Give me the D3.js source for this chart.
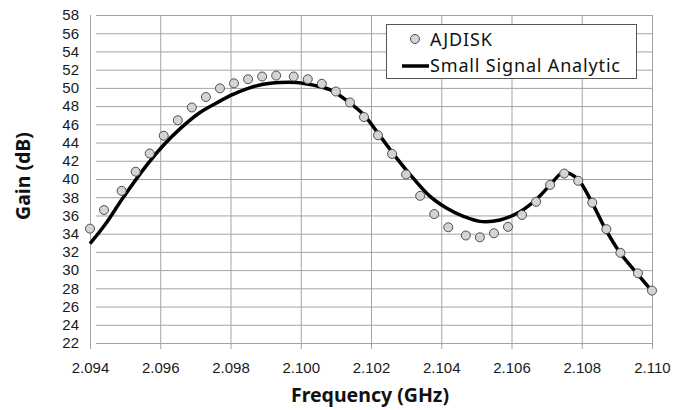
<!DOCTYPE html>
<html>
<head>
<meta charset="utf-8">
<script src="https://cdn.jsdelivr.net/npm/d3@7"></script>
<style>
  body { margin: 0; background: #fff; }
  svg { display: block; font-family: "Noto Sans", "Liberation Sans", sans-serif; }
</style>
</head>
<body>
<svg id="chart"></svg>
<script>
const width = 673;
const height = 410;
const margin = {top: 15, right: 21, bottom: 67, left: 90};

// AJDISK simulation points (GHz, dB)
const ajdiskFreq = [2.0940, 2.0944, 2.0949, 2.0953, 2.0957, 2.0961, 2.0965, 2.0969, 2.0973, 2.0977,
                    2.0981, 2.0985, 2.0989, 2.0993, 2.0998, 2.1002, 2.1006, 2.1010, 2.1014, 2.1018,
                    2.1022, 2.1026, 2.1030, 2.1034, 2.1038, 2.1042, 2.1047, 2.1051, 2.1055, 2.1059,
                    2.1063, 2.1067, 2.1071, 2.1075, 2.1079, 2.1083, 2.1087, 2.1091, 2.1096, 2.1100];
const ajdiskGain = [34.55, 36.6, 38.7, 40.8, 42.8, 44.75, 46.45, 47.85, 49.0, 49.95,
                    50.5, 50.95, 51.25, 51.35, 51.25, 50.95, 50.45, 49.6, 48.4, 46.8,
                    44.8, 42.75, 40.5, 38.15, 36.15, 34.7, 33.8, 33.6, 34.05, 34.75,
                    36.05, 37.5, 39.35, 40.6, 39.8, 37.4, 34.5, 31.9, 29.65, 27.75];

// Small signal analytic curve
const analyticFreq = [2.0940, 2.09443, 2.09495, 2.09561, 2.09609, 2.09656, 2.09713, 2.0977, 2.09799, 2.09846,
                      2.09893, 2.09941, 2.09988, 2.10036, 2.10083, 2.10131, 2.10178, 2.10226, 2.10273, 2.1032,
                      2.10368, 2.10416, 2.10463, 2.1051, 2.10567, 2.10624, 2.10672, 2.10709, 2.10747, 2.10786,
                      2.10828, 2.10866, 2.10909, 2.10956, 2.1100];
const analyticGain = [32.9, 35.0, 38.0, 41.5, 43.7, 45.5, 47.3, 48.55, 49.15, 49.9,
                      50.4, 50.6, 50.6, 50.3, 49.8, 48.6, 47.1, 44.7, 42.3, 40.1,
                      38.1, 36.8, 35.9, 35.35, 35.5, 36.4, 37.8, 39.3, 40.7, 40.1,
                      37.5, 34.6, 31.9, 29.7, 27.7];

const xTicks = [2.094, 2.096, 2.098, 2.100, 2.102, 2.104, 2.106, 2.108, 2.110];
const yTicks = [22, 24, 26, 28, 30, 32, 34, 36, 38, 40, 42, 44, 46, 48, 50, 52, 54, 56, 58];

const points = ajdiskFreq.map((f, i) => ({f, g: ajdiskGain[i]}));
const curve = analyticFreq.map((f, i) => ({f, g: analyticGain[i]}));

const svg = d3.select("#chart")
    .attr("width", width)
    .attr("height", height);

const x = d3.scaleLinear()
    .domain([2.094, 2.110])
    .range([margin.left, width - margin.right]);

const y = d3.scaleLinear()
    .domain([22, 58])
    .range([height - margin.bottom, margin.top]);

const gridColor = "#a3a3a3";

// horizontal grid + left ticks
svg.append("g")
    .attr("transform", `translate(${margin.left},0)`)
    .call(d3.axisLeft(y).tickValues(yTicks).tickSize(-(width - margin.left - margin.right)).tickSizeOuter(0).tickPadding(11))
    .call(g => g.select(".domain").remove())
    .call(g => g.selectAll("line").attr("stroke", gridColor).attr("x1", 6))
    .call(g => g.selectAll("text").attr("fill", "#1a1a1a").style("font-size", "15px"));

// vertical grid + bottom ticks
svg.append("g")
    .attr("transform", `translate(0,${height - margin.bottom})`)
    .call(d3.axisBottom(x).tickValues(xTicks).tickFormat(d3.format(".3f")).tickSize(-(height - margin.top - margin.bottom)).tickSizeOuter(0).tickPadding(19))
    .call(g => g.select(".domain").remove())
    .call(g => g.selectAll("line").attr("stroke", gridColor).attr("y1", 6))
    .call(g => g.selectAll("text").attr("fill", "#1a1a1a").style("font-size", "15px"));

// analytic curve
const line = d3.line()
    .x(d => x(d.f))
    .y(d => y(d.g))
    .curve(d3.curveCatmullRom.alpha(0.5));

svg.append("path")
    .datum(curve)
    .attr("fill", "none")
    .attr("stroke", "#000")
    .attr("stroke-width", 3.5)
    .attr("stroke-linejoin", "round")
    .attr("d", line);

// AJDISK markers
svg.append("g")
    .selectAll("circle")
    .data(points)
    .join("circle")
    .attr("cx", d => x(d.f))
    .attr("cy", d => y(d.g))
    .attr("r", 4.5)
    .attr("fill", "#d4d4d4")
    .attr("stroke", "#4d4d4d")
    .attr("stroke-width", 1);

// axis titles
svg.append("text")
    .attr("x", 370)
    .attr("y", 402)
    .attr("text-anchor", "middle")
    .style("font-size", "19.5px")
    .style("font-weight", "bold")
    .attr("fill", "#111")
    .text("Frequency (GHz)");

svg.append("text")
    .attr("transform", `translate(30,176) rotate(-90)`)
    .attr("text-anchor", "middle")
    .style("font-size", "19.5px")
    .style("font-weight", "bold")
    .attr("fill", "#111")
    .text("Gain (dB)");

// legend
const legend = svg.append("g");

legend.append("rect")
    .attr("x", 386.5)
    .attr("y", 24.5)
    .attr("width", 250)
    .attr("height", 54)
    .attr("fill", "#fff")
    .attr("stroke", "#555")
    .attr("stroke-width", 1);

legend.append("circle")
    .attr("cx", 415)
    .attr("cy", 39)
    .attr("r", 4.5)
    .attr("fill", "#d4d4d4")
    .attr("stroke", "#4d4d4d");

legend.append("line")
    .attr("x1", 402)
    .attr("x2", 429)
    .attr("y1", 66)
    .attr("y2", 66)
    .attr("stroke", "#000")
    .attr("stroke-width", 3.5);

legend.append("text")
    .attr("x", 430)
    .attr("y", 46)
    .style("font-size", "18px")
    .attr("fill", "#111")
    .attr("textLength", 62)
    .text("AJDISK");

legend.append("text")
    .attr("x", 430)
    .attr("y", 72)
    .style("font-size", "18px")
    .attr("fill", "#111")
    .attr("textLength", 190)
    .text("Small Signal Analytic");
</script>
</body>
</html>
